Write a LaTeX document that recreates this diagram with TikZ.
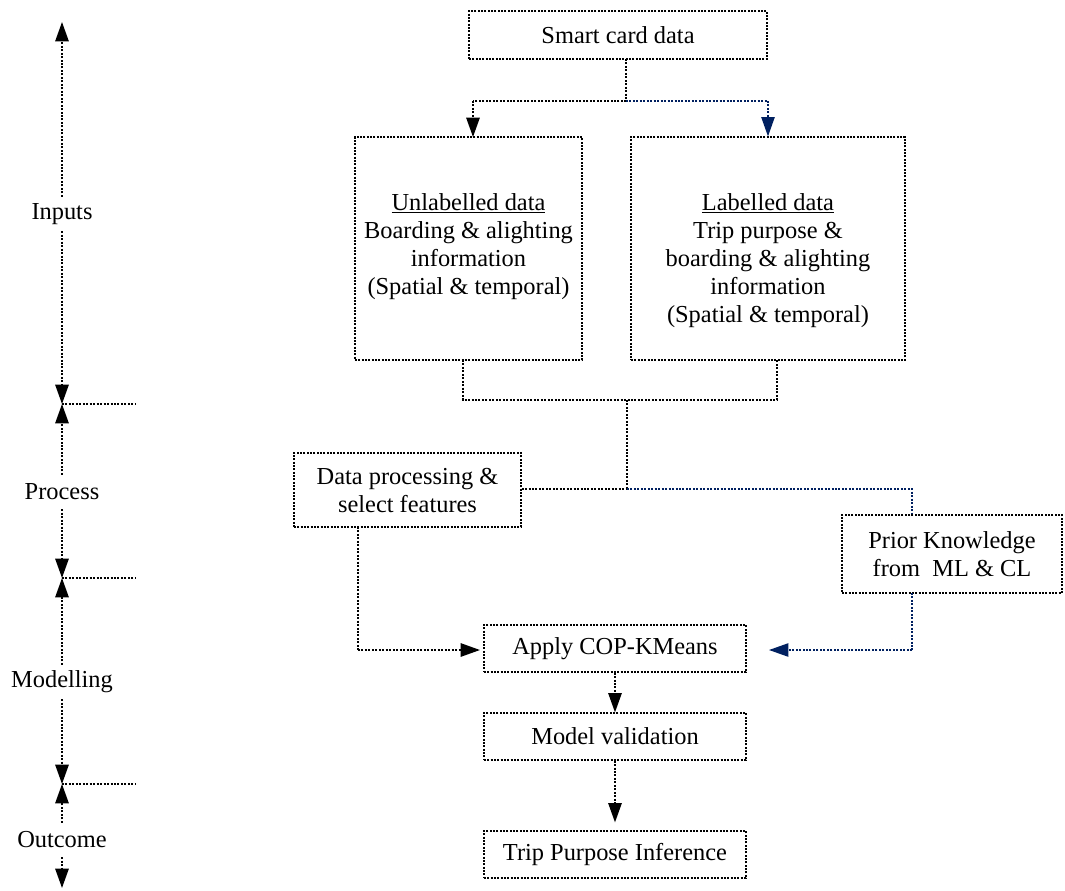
\documentclass[tikz,border=0pt]{standalone}
\usepackage{fontspec}
\setmainfont{Liberation Serif}
\usetikzlibrary{arrows.meta}
\definecolor{navy}{RGB}{0,32,96}
\begin{document}
\begin{tikzpicture}[x=0.75pt,y=-0.75pt,
  txt/.style={font=\fontsize{18.3}{21}\selectfont},
  box/.style={txt, draw, line width=0.9pt, dash pattern=on 1.5pt off 1pt, inner sep=0pt, align=center},
  lbl/.style={txt, inner sep=0pt, minimum height=25.5pt},
  conn/.style={line width=1.3pt, dash pattern=on 1.5pt off 1.1pt},
  bconn/.style={line width=1pt, dash pattern=on 1.5pt off 1.1pt, navy},
  tip/.style={-{Triangle[length=14.5pt,width=10pt]}},
]
\useasboundingbox (0,0) rectangle (1065,890);

% left axis
\coordinate (a0) at (62,22);
\coordinate (t1) at (62,404);
\coordinate (t2) at (62,578);
\coordinate (t3) at (62,784);
\coordinate (a4) at (62,888);
\coordinate (t1e) at (135,404);
\coordinate (t2e) at (135,578);
\coordinate (t3e) at (135,784);
\node[lbl] (inputs) at (62,214) {Inputs};
\node[lbl] (process) at (62,492) {Process};
\node[lbl] (modelling) at (62,682) {Modelling};
\node[lbl] (outcome) at (62,840) {Outcome};
\draw[conn, tip] (inputs.north) -- (a0);
\draw[conn, tip] (inputs.south) -- (t1);
\draw[conn, tip] (process.north) -- (t1);
\draw[conn, tip] (process.south) -- (t2);
\draw[conn, tip] (modelling.north) -- (t2);
\draw[conn, tip] (modelling.south) -- (t3);
\draw[conn, tip] (outcome.north) -- (t3);
\draw[conn, tip] (outcome.south) -- (a4);
\draw[conn] (t1) -- (t1e);
\draw[conn] (t2) -- (t2e);
\draw[conn] (t3) -- (t3e);

% boxes
\node[box, minimum width=223.5pt, minimum height=36pt] (smart) at (618,35) {Smart card data};
\node[box, minimum width=170.25pt, minimum height=167.25pt] (unl) at (468.5,248.5) {};
\node[txt, align=center, inner sep=0pt, anchor=north] (unlt) at (468.5,193)
  {\underline{Unlabelled data}\\Boarding \& alighting\\information\\(Spatial \& temporal)};
\node[box, minimum width=205.5pt, minimum height=167.25pt] (lab) at (768,248.5) {};
\node[txt, align=center, inner sep=0pt, anchor=north] (labt) at (768,193)
  {\underline{Labelled data}\\Trip purpose \&\\boarding \& alighting\\information\\(Spatial \& temporal)};
\node[box, minimum width=170.25pt, minimum height=55.5pt] (dp) at (407.5,490)
  {Data processing \&\\select features};
\node[box, minimum width=165pt, minimum height=58.5pt] (prior) at (952,554)
  {Prior Knowledge\\from~ ML \& CL};
\node[box, minimum width=196.5pt, minimum height=35.25pt] (cop) at (615,648.5) {Apply COP-KMeans};
\node[box, minimum width=196.5pt, minimum height=35.25pt] (mv) at (615,736.5) {Model validation};
\node[box, minimum width=196.5pt, minimum height=35.25pt] (trip) at (615,854.5) {Trip Purpose Inference};

% split from smart card data
\coordinate (s0) at (626,59);
\coordinate (s1) at (626,101);
\coordinate (sl) at (473,101);
\coordinate (sr) at (768,101);
\coordinate (unltop) at (473,137);
\draw[conn] (s0) -- (s1) -- (sl);
\draw[conn, tip] (sl) -- (unltop);
\draw[bconn] (s1) -- (sr);
\draw[bconn, tip] (sr) -- (lab.north);

% junction of inputs
\coordinate (j1) at (463,360);
\coordinate (j2) at (463,400);
\coordinate (j3) at (777,400);
\coordinate (j4) at (777,360);
\coordinate (jc) at (627,400);
\coordinate (jd) at (627,489);
\coordinate (pr) at (912,489);
\draw[conn] (j1) -- (j2) -- (j3) -- (j4);
\draw[conn] (jc) -- (jd);
\draw[conn] (dp.east |- jd) -- (jd);
\draw[bconn] (jd) -- (pr) -- (prior.north -| pr);

% to COP-KMeans
\coordinate (d1) at (358,527);
\coordinate (d2) at (358,650);
\coordinate (d3) at (480,650);
\draw[conn] (d1) -- (d2);
\draw[conn, tip] (d2) -- (d3);
\coordinate (p1) at (912,593);
\coordinate (p2) at (912,650);
\coordinate (p3) at (769,650);
\draw[bconn] (p1) -- (p2);
\draw[bconn, tip] (p2) -- (p3);

\draw[conn, tip] (cop.south) -- (mv.north);
\draw[conn, tip, shorten >=6pt] (mv.south) -- (trip.north);
\end{tikzpicture}
\end{document}
